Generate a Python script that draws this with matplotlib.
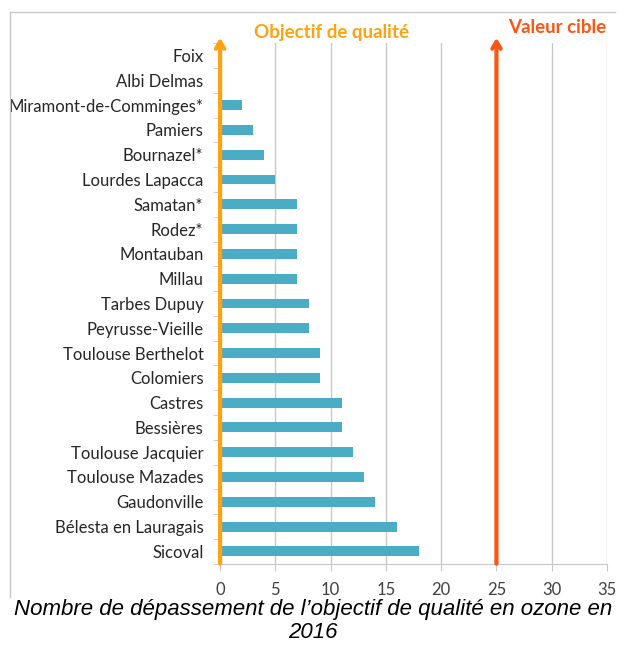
import numpy as np
import matplotlib.pyplot as plt

stations = ["Foix", "Albi Delmas", "Miramont-de-Comminges*", "Pamiers",
            "Bournazel*", "Lourdes Lapacca", "Samatan*", "Rodez*", "Montauban",
            "Millau", "Tarbes Dupuy", "Peyrusse-Vieille", "Toulouse Berthelot",
            "Colomiers", "Castres", "Bessières", "Toulouse Jacquier",
            "Toulouse Mazades", "Gaudonville", "Bélesta en Lauragais", "Sicoval"]
depassements = [0, 0, 2, 3, 4, 5, 7, 7, 7, 7, 8, 8, 9, 9, 11, 11, 12, 13, 14, 16, 18]
objectif = 0
valeur_cible = 25
xticks = [0, 5, 10, 15, 20, 25, 30, 35]

bar_color = "#4BACC6"
orange = "#FFA20F"
red = "#FF5512"
grey = "#C8C8C8"
label_font = ["Lato", "DejaVu Sans"]

fig = plt.figure(figsize=(6.2, 6.45), dpi=100)
ax = fig.add_axes([0.355, 0.126, 0.624, 0.807])

# chart frame (top and left only visible in the source)
fig.add_artist(plt.Line2D([10 / 620, 615 / 620], [1 - 12 / 645, 1 - 12 / 645],
                          transform=fig.transFigure, color=grey, lw=1))
fig.add_artist(plt.Line2D([10 / 620, 10 / 620], [1 - 12 / 645, 1 - 597 / 645],
                          transform=fig.transFigure, color=grey, lw=1))

y = np.arange(len(stations))
ax.barh(y, depassements, height=0.4, color=bar_color, zorder=3)
ax.set_ylim(len(stations) - 0.5, -0.5)
ax.set_xlim(0, 35)

ax.set_yticks(y)
ax.set_yticklabels(stations, fontsize=12, family=label_font, color="#262626")
ax.set_yticks(np.arange(-0.5, len(stations), 1), minor=True)
ax.tick_params(axis="y", which="major", length=0, pad=12)
ax.tick_params(axis="y", which="minor", length=5, color=grey)

ax.set_xticks(xticks)
ax.set_xticklabels([str(t) for t in xticks], fontsize=12, family=label_font,
                   color="#404040")
ax.tick_params(axis="x", length=5, color=grey, pad=8)
ax.grid(axis="x", color=grey, lw=1, zorder=0)

for s in ["top", "right"]:
    ax.spines[s].set_visible(False)
ax.spines["bottom"].set_color(grey)
ax.spines["left"].set_color(grey)

# arrows
for xv, c in [(objectif, orange), (valeur_cible, red)]:
    ax.annotate("", xy=(xv, -0.72), xytext=(xv, len(stations) - 0.5),
                xycoords="data", textcoords="data", annotation_clip=False,
                arrowprops=dict(arrowstyle="->,head_length=0.5,head_width=0.3",
                                color=c, lw=3, shrinkA=0, shrinkB=0), zorder=5)

ax.text(10.1, -0.92, "Objectif de qualité", color=orange, fontsize=13.5,
        fontweight="bold", family=label_font, ha="center", va="center")
ax.text(30.5, -1.12, "Valeur cible", color=red, fontsize=13.5,
        fontweight="bold", family=label_font, ha="center", va="center")

fig.text(0.505, 1 - 621 / 645,
         "Nombre de dépassement de l’objectif de qualité en ozone en\n2016",
         ha="center", va="center", fontsize=16, style="italic",
         family=["Liberation Sans", "DejaVu Sans"], linespacing=1.08)

fig.savefig("out.png", dpi=100)
